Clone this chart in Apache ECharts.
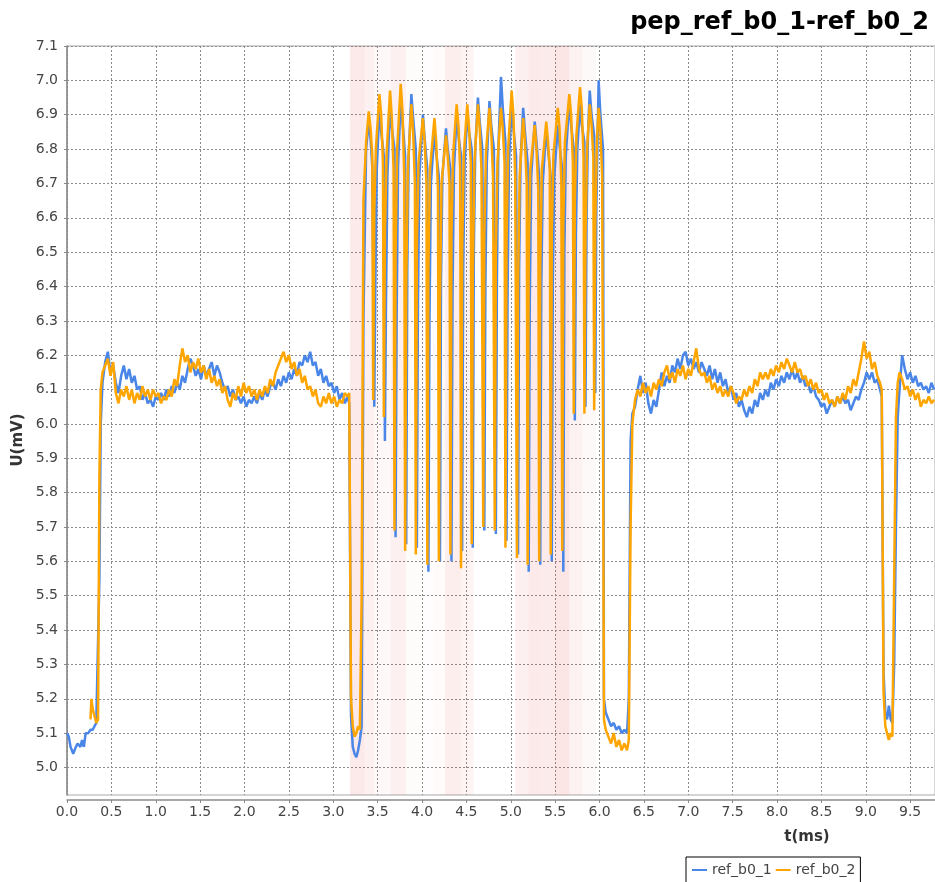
<!DOCTYPE html>
<html>
<head>
<meta charset="utf-8">
<title>pep_ref_b0_1-ref_b0_2</title>
<script src="https://cdn.jsdelivr.net/npm/echarts@6/dist/echarts.min.js"></script>
<style>
  html, body { margin: 0; padding: 0; background: #fff; }
  #chart { width: 935px; height: 882px; }
</style>
</head>
<body>
<div id="chart"></div>
<script>
// t in ms, U in mV; ref_b0_1 = u1..., ref_b0_2 = u2...

// lead-in, low level then first rise
const tLead  = [0.00, 0.02, 0.04, 0.07, 0.10, 0.12, 0.15, 0.17, 0.19, 0.21, 0.24, 0.265, 0.275, 0.29, 0.31, 0.33, 0.35, 0.365, 0.38, 0.40];
const u1Lead = [5.10, 5.09, 5.06, 5.04, 5.06, 5.07, 5.06, 5.08, 5.06, 5.10, 5.10, 5.11, 5.11, 5.11, 5.12, 5.13, 5.13, 5.55, 6.00, 6.12];
const u2Lead = [null, null, null, null, null, null, null, null, null, null, null, 5.14, 5.20, 5.17, 5.15, 5.13, 5.14, 5.85, 6.10, 6.15];

// first plateau
const tPlateau1 = [
  0.43,0.46,0.49,0.52,0.55,0.58,0.61,0.64,0.67,0.70,
  0.73,0.76,0.79,0.82,0.85,0.88,0.91,0.94,0.97,1.00,
  1.03,1.06,1.09,1.12,1.15,1.18,1.21,1.24,1.27,1.30,
  1.33,1.36,1.39,1.42,1.45,1.48,1.51,1.54,1.57,1.60,
  1.63,1.66,1.69,1.72,1.75,1.78,1.81,1.84,1.87,1.90,
  1.93,1.96,1.99,2.02,2.05,2.08,2.11,2.14,2.17,2.20,
  2.23,2.26,2.29,2.32,2.35,2.38,2.41,2.44,2.47,2.50,
  2.53,2.56,2.59,2.62,2.65,2.68,2.71,2.74,2.77,2.80,
  2.83,2.86,2.89,2.92,2.95,2.98,3.01,3.04,3.07,3.10,
  3.13,3.16];
const u1Plateau1 = [
  6.18,6.21,6.15,6.17,6.12,6.09,6.14,6.17,6.13,6.16,
  6.12,6.14,6.10,6.11,6.07,6.09,6.06,6.07,6.05,6.08,
  6.07,6.09,6.07,6.10,6.08,6.11,6.09,6.12,6.10,6.14,
  6.12,6.16,6.19,6.17,6.14,6.16,6.13,6.17,6.14,6.16,
  6.18,6.14,6.17,6.15,6.12,6.10,6.11,6.08,6.10,6.07,
  6.08,6.06,6.08,6.05,6.07,6.06,6.08,6.06,6.09,6.07,
  6.10,6.08,6.11,6.12,6.10,6.13,6.11,6.14,6.12,6.15,
  6.13,6.16,6.14,6.18,6.17,6.20,6.18,6.21,6.17,6.18,
  6.14,6.16,6.12,6.14,6.11,6.12,6.09,6.11,6.07,6.09,
  6.06,6.08];
const u2Plateau1 = [
  6.17,6.19,6.14,6.18,6.09,6.06,6.10,6.08,6.11,6.07,
  6.10,6.06,6.09,6.07,6.11,6.08,6.10,6.07,6.10,6.08,
  6.09,6.06,6.08,6.07,6.10,6.08,6.13,6.11,6.17,6.22,
  6.18,6.20,6.15,6.18,6.16,6.19,6.15,6.17,6.13,6.16,
  6.12,6.14,6.11,6.13,6.09,6.11,6.07,6.05,6.09,6.07,
  6.11,6.08,6.12,6.09,6.11,6.08,6.10,6.07,6.10,6.08,
  6.11,6.09,6.13,6.11,6.15,6.17,6.19,6.21,6.18,6.20,
  6.16,6.18,6.14,6.16,6.12,6.14,6.10,6.11,6.08,6.10,
  6.06,6.05,6.08,6.06,6.09,6.06,6.08,6.05,6.07,6.06,
  6.09,6.08];

// drop before the burst
const tDrop1  = [3.18, 3.20, 3.22, 3.24, 3.26, 3.28, 3.30, 3.32, 3.34, 3.37];
const u1Drop1 = [6.06, 5.15, 5.06, 5.04, 5.03, 5.05, 5.08, 5.12, 6.30, 6.80];
const u2Drop1 = [6.09, 5.20, 5.12, 5.09, 5.10, 5.12, 5.11, 5.50, 6.65, 6.82];

// burst: first peak, then per row = dip, rising edge, near top, peak, shoulder, before fall
// ref_b0_1 lags ref_b0_2 slightly, so it has its own sample times here
const tBurst1 = [
  3.40, 3.42, 3.44,
  3.462, 3.474, 3.49, 3.52, 3.54, 3.57,
  3.582, 3.594, 3.61, 3.64, 3.66, 3.69,
  3.702, 3.714, 3.73, 3.76, 3.78, 3.81,
  3.822, 3.834, 3.85, 3.88, 3.90, 3.93,
  3.942, 3.954, 3.97, 4.01, 4.03, 4.06,
  4.072, 4.084, 4.10, 4.14, 4.16, 4.19,
  4.202, 4.214, 4.23, 4.27, 4.29, 4.32,
  4.332, 4.344, 4.36, 4.39, 4.41, 4.44,
  4.452, 4.464, 4.48, 4.51, 4.53, 4.56,
  4.572, 4.584, 4.60, 4.63, 4.65, 4.68,
  4.702, 4.714, 4.73, 4.76, 4.78, 4.81,
  4.832, 4.844, 4.86, 4.89, 4.91, 4.94,
  4.952, 4.964, 4.98, 5.01, 5.03, 5.06,
  5.082, 5.094, 5.11, 5.14, 5.16, 5.19,
  5.202, 5.214, 5.23, 5.27, 5.29, 5.32,
  5.332, 5.344, 5.36, 5.40, 5.42, 5.45,
  5.462, 5.474, 5.49, 5.53, 5.55, 5.58,
  5.592, 5.604, 5.62, 5.66, 5.68, 5.71,
  5.722, 5.734, 5.75, 5.78, 5.80, 5.83,
  5.842, 5.854, 5.87, 5.89, 5.91, 5.94,
  5.952, 5.964, 5.98, 5.99, 6.01, 6.04];
const u1Burst = [
  6.88, 6.83, 6.75,
  6.05, 6.40, 6.74, 6.92, 6.85, 6.78,
  5.95, 6.35, 6.72, 6.93, 6.86, 6.80,
  5.67, 6.30, 6.75, 6.95, 6.88, 6.78,
  5.65, 6.45, 6.78, 6.96, 6.89, 6.80,
  5.64, 6.35, 6.72, 6.90, 6.83, 6.74,
  5.57, 6.30, 6.70, 6.85, 6.79, 6.72,
  5.60, 6.42, 6.72, 6.86, 6.80, 6.74,
  5.60, 6.38, 6.74, 6.90, 6.84, 6.78,
  5.63, 6.45, 6.76, 6.90, 6.85, 6.80,
  5.64, 6.50, 6.80, 6.95, 6.88, 6.80,
  5.69, 6.40, 6.76, 6.94, 6.87, 6.80,
  5.68, 6.42, 6.80, 7.01, 6.92, 6.82,
  5.66, 6.38, 6.76, 6.93, 6.86, 6.78,
  5.62, 6.45, 6.76, 6.92, 6.85, 6.76,
  5.57, 6.35, 6.72, 6.88, 6.82, 6.72,
  5.59, 6.40, 6.70, 6.86, 6.80, 6.72,
  5.60, 6.42, 6.72, 6.87, 6.81, 6.74,
  5.57, 6.50, 6.78, 6.94, 6.87, 6.80,
  6.01, 6.55, 6.80, 6.93, 6.87, 6.82,
  6.05, 6.60, 6.84, 6.97, 6.90, 6.84,
  6.09, 6.62, 6.86, 7.00, 6.90, 6.80];
const tBurst2 = [
  3.40, 3.42, 3.44,
  3.45, 3.462, 3.48, 3.52, 3.54, 3.56,
  3.57, 3.582, 3.60, 3.64, 3.66, 3.68,
  3.69, 3.702, 3.72, 3.76, 3.78, 3.80,
  3.81, 3.822, 3.84, 3.88, 3.90, 3.92,
  3.93, 3.942, 3.96, 4.01, 4.03, 4.05,
  4.06, 4.072, 4.09, 4.14, 4.16, 4.18,
  4.19, 4.202, 4.22, 4.27, 4.29, 4.31,
  4.32, 4.332, 4.35, 4.39, 4.41, 4.43,
  4.44, 4.452, 4.47, 4.51, 4.53, 4.55,
  4.56, 4.572, 4.59, 4.63, 4.65, 4.67,
  4.69, 4.702, 4.72, 4.76, 4.78, 4.80,
  4.82, 4.832, 4.85, 4.89, 4.91, 4.93,
  4.94, 4.952, 4.97, 5.01, 5.03, 5.05,
  5.07, 5.082, 5.10, 5.14, 5.16, 5.18,
  5.19, 5.202, 5.22, 5.27, 5.29, 5.31,
  5.32, 5.332, 5.35, 5.40, 5.42, 5.44,
  5.45, 5.462, 5.48, 5.53, 5.55, 5.57,
  5.58, 5.592, 5.61, 5.66, 5.68, 5.70,
  5.71, 5.722, 5.74, 5.78, 5.80, 5.82,
  5.83, 5.842, 5.86, 5.89, 5.91, 5.93,
  5.94, 5.952, 5.97, 5.99, 6.01, 6.03];
const u2Burst = [
  6.91, 6.86, 6.78,
  6.07, 6.62, 6.80, 6.96, 6.90, 6.76,
  6.02, 6.55, 6.78, 6.97, 6.89, 6.74,
  5.69, 6.50, 6.80, 6.99, 6.91, 6.72,
  5.63, 6.40, 6.74, 6.93, 6.85, 6.70,
  5.62, 6.52, 6.76, 6.89, 6.82, 6.70,
  5.59, 6.45, 6.74, 6.89, 6.82, 6.68,
  5.60, 6.35, 6.70, 6.84, 6.78, 6.70,
  5.62, 6.55, 6.78, 6.93, 6.87, 6.74,
  5.58, 6.50, 6.78, 6.93, 6.86, 6.76,
  5.65, 6.42, 6.76, 6.93, 6.86, 6.74,
  5.70, 6.55, 6.79, 6.92, 6.85, 6.72,
  5.69, 6.50, 6.76, 6.92, 6.86, 6.76,
  5.64, 6.52, 6.80, 6.97, 6.90, 6.72,
  5.61, 6.40, 6.72, 6.89, 6.82, 6.70,
  5.59, 6.48, 6.74, 6.87, 6.80, 6.68,
  5.60, 6.45, 6.74, 6.88, 6.82, 6.74,
  5.62, 6.55, 6.78, 6.92, 6.86, 6.70,
  5.63, 6.58, 6.82, 6.96, 6.90, 6.76,
  6.03, 6.65, 6.84, 6.98, 6.92, 6.78,
  6.03, 6.55, 6.80, 6.93, 6.87, 6.78,
  6.04, 6.58, 6.82, 6.92, 6.85, 6.72];

// low level after the burst
const tLow2  = [6.05, 6.07, 6.10, 6.13, 6.16, 6.19, 6.22, 6.25, 6.28, 6.31, 6.33, 6.35, 6.37];
const u1Low2 = [5.20, 5.16, 5.14, 5.12, 5.13, 5.11, 5.12, 5.10, 5.11, 5.10, 5.20, 5.95, 6.03];
const u2Low2 = [5.14, 5.11, 5.09, 5.07, 5.10, 5.06, 5.08, 5.05, 5.07, 5.05, 5.08, 5.70, 6.00];

// second plateau
const tPlateau2 = [
  6.40,6.43,6.46,6.49,6.52,6.55,6.58,6.61,6.64,6.67,
  6.70,6.73,6.76,6.79,6.82,6.85,6.88,6.91,6.94,6.97,
  7.00,7.03,7.06,7.09,7.12,7.15,7.18,7.21,7.24,7.27,
  7.30,7.33,7.36,7.39,7.42,7.45,7.48,7.51,7.54,7.57,
  7.60,7.63,7.66,7.69,7.72,7.75,7.78,7.81,7.84,7.87,
  7.90,7.93,7.96,7.99,8.02,8.05,8.08,8.11,8.14,8.17,
  8.20,8.23,8.26,8.29,8.32,8.35,8.38,8.41,8.44,8.47,
  8.50,8.53,8.56,8.59,8.62,8.65,8.68,8.71,8.74,8.77,
  8.80,8.83,8.86,8.89,8.92,8.95,8.98,9.01,9.04,9.07,
  9.10,9.13,9.16];
const u1Plateau2 = [
  6.05,6.10,6.14,6.09,6.12,6.06,6.03,6.07,6.05,6.10,
  6.15,6.11,6.14,6.12,6.17,6.15,6.19,6.16,6.20,6.21,
  6.17,6.19,6.16,6.18,6.15,6.18,6.16,6.14,6.17,6.13,
  6.16,6.12,6.15,6.11,6.13,6.09,6.11,6.07,6.09,6.05,
  6.07,6.04,6.02,6.05,6.03,6.07,6.05,6.09,6.07,6.10,
  6.08,6.12,6.10,6.13,6.11,6.14,6.12,6.15,6.13,6.16,
  6.13,6.15,6.12,6.14,6.11,6.12,6.09,6.11,6.08,6.07,
  6.05,6.06,6.03,6.05,6.07,6.05,6.08,6.06,6.08,6.06,
  6.07,6.04,6.06,6.08,6.07,6.10,6.12,6.15,6.13,6.15,
  6.12,6.13,6.10];
const u2Plateau2 = [
  6.07,6.10,6.08,6.12,6.09,6.11,6.08,6.12,6.10,6.13,
  6.11,6.15,6.17,6.13,6.15,6.12,6.16,6.14,6.17,6.13,
  6.16,6.14,6.18,6.22,6.16,6.14,6.15,6.12,6.14,6.10,
  6.12,6.09,6.11,6.08,6.10,6.08,6.11,6.09,6.06,6.08,
  6.07,6.10,6.08,6.11,6.09,6.13,6.11,6.15,6.13,6.15,
  6.13,6.16,6.14,6.17,6.15,6.18,6.16,6.19,6.17,6.15,
  6.18,6.15,6.16,6.13,6.14,6.11,6.13,6.10,6.12,6.09,
  6.10,6.07,6.09,6.06,6.07,6.05,6.08,6.06,6.09,6.07,
  6.11,6.09,6.13,6.11,6.15,6.19,6.24,6.19,6.21,6.16,
  6.18,6.14,6.12];

// last drop and recovery
const tTail  = [9.18, 9.20, 9.22, 9.24, 9.26, 9.28, 9.30, 9.32, 9.34, 9.36, 9.38, 9.41, 9.44, 9.47, 9.50, 9.53, 9.56, 9.59, 9.62, 9.65, 9.68, 9.71, 9.74, 9.77];
const u1Tail = [6.08, 5.28, 5.16, 5.14, 5.18, 5.14, 5.13, 5.30, 5.70, 6.02, 6.10, 6.20, 6.16, 6.13, 6.15, 6.12, 6.14, 6.11, 6.12, 6.10, 6.11, 6.09, 6.12, 6.10];
const u2Tail = [6.10, 5.22, 5.12, 5.10, 5.08, 5.10, 5.09, 5.55, 6.02, 6.12, 6.15, 6.13, 6.10, 6.11, 6.08, 6.10, 6.07, 6.09, 6.05, 6.07, 6.06, 6.08, 6.06, 6.07];

// shaded background bands (ms) and their strength
const bandFrom  = [3.19, 3.35, 3.46, 3.65, 3.82, 3.98, 4.12, 4.26, 4.44, 5.05, 5.20, 5.35, 5.50, 5.66, 5.81];
const bandTo    = [3.35, 3.46, 3.65, 3.82, 3.98, 4.12, 4.26, 4.44, 4.58, 5.20, 5.35, 5.50, 5.66, 5.81, 5.96];
const bandAlpha = [0.12, 0.08, 0.04, 0.08, 0.025, 0.01, 0.02, 0.09, 0.06, 0.08, 0.12, 0.11, 0.14, 0.07, 0.03];

const tTicks = [0.0, 0.5, 1.0, 1.5, 2.0, 2.5, 3.0, 3.5, 4.0, 4.5, 5.0, 5.5, 6.0, 6.5, 7.0, 7.5, 8.0, 8.5, 9.0, 9.5];
const uTicks = [5.0, 5.1, 5.2, 5.3, 5.4, 5.5, 5.6, 5.7, 5.8, 5.9, 6.0, 6.1, 6.2, 6.3, 6.4, 6.5, 6.6, 6.7, 6.8, 6.9, 7.0, 7.1];

const FONT = '"DejaVu Sans", Verdana, sans-serif';

function pairs(ts, us) {
  const t = [].concat.apply([], ts);
  const u = [].concat.apply([], us);
  return t.map((x, i) => [x, u[i]]);
}

const ref1 = pairs(
  [tLead, tPlateau1, tDrop1, tBurst1, tLow2, tPlateau2, tTail],
  [u1Lead, u1Plateau1, u1Drop1, u1Burst, u1Low2, u1Plateau2, u1Tail]
);
const ref2 = pairs(
  [tLead, tPlateau1, tDrop1, tBurst2, tLow2, tPlateau2, tTail],
  [u2Lead, u2Plateau1, u2Drop1, u2Burst, u2Low2, u2Plateau2, u2Tail]
);

const bands = bandFrom.map((a, i) => [
  { xAxis: a, itemStyle: { color: 'rgba(230, 70, 70, ' + bandAlpha[i] + ')' } },
  { xAxis: bandTo[i] }
]);

const chart = echarts.init(document.getElementById('chart'));

const option = {
  animation: false,
  backgroundColor: '#ffffff',
  title: {
    text: 'pep_ref_b0_1-ref_b0_2',
    right: 1,
    top: 6,
    textStyle: { fontFamily: FONT, fontWeight: 'bold', fontSize: 24, color: '#000' }
  },
  legend: {
    left: 686,
    top: 857,
    data: ['ref_b0_1', 'ref_b0_2'],
    icon: 'rect',
    itemWidth: 15,
    itemHeight: 2,
    itemGap: 4,
    padding: [6, 5, 8, 6],
    borderColor: '#000',
    borderWidth: 1,
    textStyle: { fontFamily: FONT, fontSize: 14, color: '#444' }
  },
  // plot runs past the right edge of the picture, as in the reference
  grid: {
    left: 67,
    top: 46,
    width: 872,
    height: 749,
    show: true,
    borderColor: '#a8a8a8',
    borderWidth: 1
  },
  xAxis: {
    type: 'value',
    min: 0,
    max: 9.78,
    offset: 5,
    axisLine: { show: true, lineStyle: { color: '#8a8a8a', width: 1.5 } },
    axisTick: { show: true, length: 3, customValues: tTicks, lineStyle: { color: '#8a8a8a' } },
    axisLabel: {
      customValues: tTicks,
      margin: 5,
      formatter: v => v.toFixed(1),
      fontFamily: FONT, fontSize: 14, color: '#444'
    },
    splitLine: { show: true, lineStyle: { color: '#8c8c8c', type: [2, 2], width: 1 } }
  },
  yAxis: {
    type: 'value',
    min: 4.92,
    max: 7.1,
    offset: 4,
    axisLine: { show: true, lineStyle: { color: '#8a8a8a', width: 1.5 } },
    axisTick: { show: true, length: 3, customValues: uTicks, lineStyle: { color: '#8a8a8a' } },
    axisLabel: {
      customValues: uTicks,
      margin: 5,
      formatter: v => v.toFixed(1),
      fontFamily: FONT, fontSize: 14, color: '#444'
    },
    splitLine: { show: true, lineStyle: { color: '#8c8c8c', type: [2, 2], width: 1 } }
  },
  graphic: [
    {
      type: 'text', x: 18, y: 440, rotation: Math.PI / 2,
      style: { text: 'U(mV)', font: 'bold 15px ' + FONT, fill: '#333', align: 'center', verticalAlign: 'middle' }
    },
    {
      type: 'text', x: 807, y: 837,
      style: { text: 't(ms)', font: 'bold 15px ' + FONT, fill: '#333', align: 'center', verticalAlign: 'middle' }
    }
  ],
  series: [
    {
      name: 'ref_b0_1',
      type: 'line',
      data: ref1,
      showSymbol: false,
      symbol: 'none',
      color: '#4a86e8',
      lineStyle: { width: 2.5 },
      markArea: { silent: true, data: bands }
    },
    {
      name: 'ref_b0_2',
      type: 'line',
      data: ref2,
      showSymbol: false,
      symbol: 'none',
      color: '#ffa500',
      lineStyle: { width: 2.5 }
    }
  ]
};

chart.setOption(option);
</script>
</body>
</html>
